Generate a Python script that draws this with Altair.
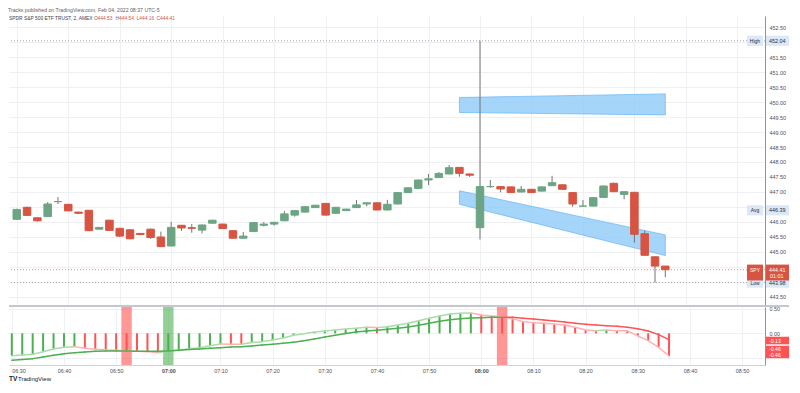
import altair as alt
import pandas as pd

# ---------------- data ----------------
times = ["06:30", "06:32", "06:34", "06:36", "06:38", "06:40", "06:42", "06:44", "06:46", "06:48",
         "06:50", "06:52", "06:54", "06:56", "06:58", "07:00", "07:02", "07:04", "07:06", "07:08",
         "07:10", "07:12", "07:14", "07:16", "07:18", "07:20", "07:22", "07:24", "07:26", "07:28",
         "07:30", "07:32", "07:34", "07:36", "07:38", "07:40", "07:42", "07:44", "07:46", "07:48",
         "07:50", "07:52", "07:54", "07:56", "07:58", "08:00", "08:02", "08:04", "08:06", "08:08",
         "08:10", "08:12", "08:14", "08:16", "08:18", "08:20", "08:22", "08:24", "08:26", "08:28",
         "08:30", "08:32", "08:34", "08:36"]

opens = [446.09, 446.49, 446.14, 446.18, 446.68, 446.59, 446.33, 446.39, 445.76, 446.06,
         445.79, 445.74, 445.62, 445.76, 445.50, 445.20, 445.89, 445.81, 445.73, 445.96,
         445.93, 445.71, 445.46, 445.68, 445.89, 445.93, 446.04, 446.23, 446.33, 446.48,
         446.62, 446.29, 446.38, 446.48, 446.60, 446.64, 446.40, 446.60, 446.98, 447.12,
         447.40, 447.48, 447.60, 447.82, 447.60, 445.81, 447.18, 447.18, 447.17, 447.00,
         447.09, 447.03, 447.21, 447.24, 446.98, 446.53, 446.53, 446.82, 447.29, 446.92,
         446.99, 445.61, 444.84, 444.53]
closes = [446.42, 446.22, 446.04, 446.60, 446.68, 446.37, 446.29, 445.71, 445.82, 445.72,
          445.53, 445.44, 445.58, 445.48, 445.18, 445.82, 445.80, 445.79, 445.90, 446.06,
          445.78, 445.46, 445.53, 445.98, 445.93, 445.99, 446.27, 446.38, 446.51, 446.56,
          446.23, 446.49, 446.43, 446.57, 446.64, 446.40, 446.59, 446.98, 447.14, 447.40,
          447.44, 447.62, 447.81, 447.62, 447.56, 447.18, 447.18, 447.10, 446.98, 447.09,
          446.98, 447.17, 447.31, 447.09, 446.60, 446.53, 446.81, 447.20, 447.01, 447.01,
          445.59, 444.89, 444.53, 444.41]
highs = [446.44, 446.51, 446.15, 446.66, 446.83, 446.60, 446.34, 446.40, 445.83, 446.07,
         445.80, 445.75, 445.63, 445.78, 445.68, 446.01, 445.90, 445.93, 445.92, 446.07,
         445.94, 445.72, 445.67, 445.99, 446.00, 446.00, 446.36, 446.40, 446.53, 446.57,
         446.63, 446.50, 446.44, 446.73, 446.65, 446.65, 446.74, 446.99, 447.15, 447.41,
         447.60, 447.66, 447.90, 447.83, 447.62, 452.04, 447.40, 447.19, 447.18, 447.20,
         447.10, 447.18, 447.54, 447.25, 446.99, 446.73, 446.82, 447.21, 447.31, 447.02,
         447.00, 445.71, 444.85, 444.54]
lows = [446.07, 446.20, 446.02, 446.17, 446.60, 446.36, 446.28, 445.70, 445.75, 445.71,
        445.50, 445.43, 445.57, 445.44, 445.17, 445.19, 445.70, 445.64, 445.62, 445.95,
        445.77, 445.45, 445.45, 445.67, 445.85, 445.88, 446.03, 446.18, 446.32, 446.47,
        446.22, 446.28, 446.37, 446.47, 446.52, 446.39, 446.39, 446.59, 446.97, 447.11,
        447.23, 447.47, 447.59, 447.51, 447.50, 445.42, 447.14, 446.99, 446.97, 446.99,
        446.97, 447.02, 447.20, 447.08, 446.51, 446.51, 446.52, 446.81, 447.00, 446.76,
        445.31, 444.88, 443.98, 444.16]

osc = [-0.46, -0.445, -0.43, -0.375, -0.32, -0.286, -0.272, -0.306, -0.327, -0.340,
       -0.345, -0.354, -0.365, -0.374, -0.395, -0.361, -0.340, -0.313, -0.293, -0.252,
       -0.218, -0.221, -0.225, -0.190, -0.170, -0.136, -0.095, -0.041, -0.007, 0.027,
       0.048, 0.068, 0.088, 0.102, 0.122, 0.116, 0.136, 0.170, 0.204, 0.258,
       0.306, 0.354, 0.395, 0.408, 0.415, 0.374, 0.354, 0.340, 0.300, 0.238,
       0.218, 0.204, 0.190, 0.170, 0.122, 0.068, 0.054, 0.068, 0.054, 0.050,
       -0.054, -0.150, -0.286, -0.463]
osc_dir = ["u", "u", "u", "u", "u", "u", "u", "d", "d", "d",
           "d", "d", "d", "d", "d", "u", "u", "u", "u", "u",
           "u", "d", "d", "u", "u", "u", "u", "u", "u", "u",
           "u", "u", "u", "u", "u", "d", "u", "u", "u", "u",
           "u", "u", "u", "u", "u", "d", "d", "d", "d", "d",
           "d", "d", "d", "d", "d", "d", "d", "u", "d", "d",
           "d", "d", "d", "d"]
signal = [-0.551, -0.537, -0.517, -0.483, -0.449, -0.415, -0.395, -0.381, -0.367, -0.361,
          -0.361, -0.361, -0.365, -0.367, -0.367, -0.361, -0.347, -0.333, -0.320, -0.306,
          -0.293, -0.279, -0.272, -0.259, -0.238, -0.224, -0.204, -0.184, -0.150, -0.116,
          -0.075, -0.041, -0.005, 0.027, 0.048, 0.061, 0.082, 0.102, 0.129, 0.163,
          0.204, 0.245, 0.279, 0.299, 0.313, 0.320, 0.327, 0.327, 0.327, 0.306,
          0.293, 0.272, 0.252, 0.231, 0.204, 0.184, 0.170, 0.156, 0.143, 0.122,
          0.095, 0.048, -0.027, -0.13]
sig_dir = ["u"] * 48 + ["d"] * 16

flag_times = ["06:52", "07:00", "08:04"]
flag_dir = ["d", "u", "d"]

band_times = ["07:56", "08:36"]
upper_top = [450.15, 450.27]
upper_bot = [449.65, 449.57]
lower_top = [447.04, 445.57]
lower_bot = [446.59, 444.88]

tag_names = ["Low", "Avg", "High", "SPY"]
tag_prices = [443.98, 446.39, 452.04, 444.41]
tag_kinds = ["info", "info", "info", "last"]
countdown = "01:01"

time_ticks = ["06:30", "06:40", "06:50", "07:00", "07:10", "07:20", "07:30", "07:40",
              "07:50", "08:00", "08:10", "08:20", "08:30", "08:40", "08:50"]
price_ticks = [443.5, 444.0, 444.5, 445.0, 445.5, 446.0, 446.5, 447.0, 447.5, 448.0,
               448.5, 449.0, 449.5, 450.0, 450.5, 451.0, 451.5, 452.0, 452.5]
osc_ticks = [-0.5, 0.0, 0.5]

title_text = "Tracks published on TradingView.com, Feb 04, 2022 08:37 UTC-5"
header_texts = ["SPDR S&P 500 ETF TRUST, 2, AMEX", "O", "444.53", "H", "444.54",
                "L", "444.16", "C", "444.41"]
header_kind = ["name", "k", "v", "k", "v", "k", "v", "k", "v"]
header_x = [0, 85, 88.5, 106.5, 110, 127.5, 130.2, 147.5, 151]   # layout positions (px)

# ---------------- layout / style ----------------
FONT = "Liberation Sans"
W = 756
H_MAIN = 289
H_IND = 58
PX_PER_MIN = 5.216
X_START = 29.46
UP, DOWN = "#6ba583", "#d75442"
OSC_UP, OSC_DN = "#4caf50", "#ff5252"
LIGHT_UP, LIGHT_DN = "#a8dcaa", "#ffb0b0"
GRID = "#eef0f4"
AXIS_LINE = "#8f929b"
LABEL = "#4b4f5a"
AX_FS = 5.4


def minutes(s):
    h, m = s.split(":")
    return (int(h) - 6) * 60 + int(m)


tm = [minutes(s) for s in times]
cdir = ["u" if c >= o else "d" for o, c in zip(opens, closes)]
candles = pd.DataFrame(dict(t=tm, open=opens, high=highs, low=lows, close=closes,
                            col=[UP if d == "u" else DOWN for d in cdir]))
ind = pd.DataFrame(dict(t=tm, v=osc, col=[OSC_UP if d == "u" else OSC_DN for d in osc_dir]))
seg_light = pd.DataFrame(dict(t0=tm[:-1], t1=tm[1:], v0=osc[:-1], v1=osc[1:],
                              col=[LIGHT_UP if d == "u" else LIGHT_DN for d in osc_dir[1:]]))
seg_sig = pd.DataFrame(dict(t0=tm[:-1], t1=tm[1:], v0=signal[:-1], v1=signal[1:],
                            col=[OSC_UP if d == "u" else OSC_DN for d in sig_dir[1:]]))
flags = pd.DataFrame(dict(t=[minutes(s) for s in flag_times],
                          col=[OSC_UP if d == "u" else OSC_DN for d in flag_dir]))
bands = pd.DataFrame(dict(
    band=["upper", "upper", "lower", "lower"],
    t=[minutes(s) for s in band_times] * 2,
    top=upper_top + lower_top,
    bot=upper_bot + lower_bot))
tags = pd.DataFrame(dict(name=tag_names, price=tag_prices, kind=tag_kinds,
                         label=[f"{p:.2f}" for p in tag_prices],
                         box=["#dce8f8" if k == "info" else DOWN for k in tag_kinds],
                         ink=["#2a2e39" if k == "info" else "#ffffff" for k in tag_kinds]))
levels = pd.DataFrame(dict(price=[tag_prices[2], tag_prices[0], tag_prices[3]],
                           col=["#a3a6af", "#a3a6af", "#f08b80"]))
header = pd.DataFrame(dict(text=header_texts, x=header_x,
                           col=[{"name": "#3d4150", "k": "#6a6d78", "v": DOWN}[k] for k in header_kind]))
ind_tags = pd.DataFrame(dict(
    text=[f"{signal[-1]:.2f}", f"{osc[-1]:.2f}", f"{osc[-1]:.2f}"],
    ty=[-0.15, -0.325, -0.44]))
ind_boxes = pd.DataFrame(dict(top=[-0.07, -0.255], bot=[-0.225, -0.51]))
logo_icon = pd.DataFrame(dict(text=["TV"], x=[0]))
logo_word = pd.DataFrame(dict(text=["TradingView"], x=[9]))

# hide axis labels that sit under a price tag (as the tags cover them)
hide_test = " || ".join(f"abs(datum.value - {p}) < 0.15" for p in tag_prices)
price_label_expr = f"({hide_test}) ? '' : format(datum.value, '.2f')"
osc_label_expr = "datum.value < -0.25 ? '' : format(datum.value, '.2f')"

xscale = alt.Scale(domain=[X_START, X_START + W / PX_PER_MIN], nice=False, zero=False)
yscale = alt.Scale(domain=[443.233, 452.867], nice=False, zero=False)
vscale = alt.Scale(domain=[-0.647, 0.537], nice=False, zero=False)

grid_min = [minutes(s) for s in time_ticks]

AX_MX = alt.Axis(values=grid_min, labels=False, ticks=False, domain=False, grid=True,
                 gridColor=GRID, title=None)
AX_MY = alt.Axis(orient="right", values=price_ticks, labelExpr=price_label_expr, grid=True,
                 gridColor=GRID, ticks=False, domain=True, domainColor=AXIS_LINE,
                 labelFontSize=AX_FS, labelColor=LABEL, labelPadding=4, title=None)
AX_IX = alt.Axis(values=grid_min, labelExpr="timeFormat(datetime(2022, 1, 4, 6, datum.value), '%H:%M')",
                 labelFontWeight={"condition": {"test": "datum.value % 60 == 0", "value": "bold"},
                                  "value": "normal"},
                 ticks=False, domain=True, domainColor="#d1d4dc", grid=True, gridColor=GRID,
                 labelFontSize=AX_FS, labelColor=LABEL, labelPadding=3.3, labelFlush=8, title=None)
AX_IY = alt.Axis(orient="right", values=osc_ticks, labelExpr=osc_label_expr, grid=True,
                 gridColor=GRID, ticks=False, domain=True, domainColor=AXIS_LINE,
                 labelFontSize=AX_FS, labelColor=LABEL, labelPadding=4, title=None)

MX = alt.X("t:Q", scale=xscale, axis=AX_MX)


def MY(field):
    return alt.Y(field, scale=yscale, axis=AX_MY)


# ---------------- main pane ----------------
band_layer = alt.Chart(bands).mark_area(
    fill="#90caf9", fillOpacity=0.8, stroke="#64b5f6", strokeWidth=1, strokeOpacity=0.7
).encode(x=MX, y=MY("top:Q"), y2="bot:Q", detail="band:N")

level_layer = alt.Chart(levels).mark_rule(strokeDash=[1, 2], strokeWidth=1).encode(
    y=MY("price:Q"), color=alt.Color("col:N", scale=None))

wick_layer = alt.Chart(candles).mark_rule(color="#737375", strokeWidth=1).encode(
    x=MX, y=MY("low:Q"), y2="high:Q")

body_layer = alt.Chart(candles).mark_bar(size=7.5, strokeWidth=1).encode(
    x=MX, y=MY("open:Q"), y2="close:Q",
    color=alt.Color("col:N", scale=None),
    stroke=alt.Stroke("col:N", scale=None))

header_layer = alt.Chart(header).mark_text(
    align="left", baseline="middle", fontSize=4.9, font=FONT
).encode(x=alt.X("x:Q", scale=None), y=alt.value(3), text="text:N",
         color=alt.Color("col:N", scale=None))

tag_base = alt.Chart(tags).transform_calculate(
    ytop="datum.price + 0.17",
    ybot="datum.kind == 'last' ? datum.price - 0.36 : datum.price - 0.17")
tag_left_box = tag_base.mark_rect().encode(
    x=alt.value(W - 18), x2=alt.value(W - 2), y=MY("ytop:Q"), y2="ybot:Q",
    color=alt.Color("box:N", scale=None))
tag_right_box = tag_base.mark_rect().encode(
    x=alt.value(W + 1), x2=alt.value(W + 24), y=MY("ytop:Q"), y2="ybot:Q",
    color=alt.Color("box:N", scale=None))
tag_left_txt = tag_base.mark_text(fontSize=5, font=FONT, baseline="middle", align="center").encode(
    x=alt.value(W - 10), y=MY("price:Q"), text="name:N", color=alt.Color("ink:N", scale=None))
tag_right_txt = tag_base.mark_text(fontSize=AX_FS, font=FONT, baseline="middle", align="left").encode(
    x=alt.value(W + 4), y=MY("price:Q"), text="label:N", color=alt.Color("ink:N", scale=None))
tag_count_txt = tag_base.transform_filter("datum.kind == 'last'").mark_text(
    fontSize=AX_FS, font=FONT, baseline="middle", align="left", dy=6, color="#ffffff"
).encode(x=alt.value(W + 5), y=MY("price:Q"), text=alt.value(countdown))

main = alt.layer(
    band_layer, level_layer, wick_layer, body_layer, header_layer,
    tag_left_box, tag_right_box, tag_left_txt, tag_right_txt, tag_count_txt
).properties(width=W, height=H_MAIN)

# ---------------- indicator pane ----------------
IX = alt.X("t:Q", scale=xscale, axis=AX_IX)


def IY(field):
    return alt.Y(field, scale=vscale, axis=AX_IY)


flag_layer = alt.Chart(flags).transform_calculate(
    ta="datum.t - 1", tb="datum.t + 1"
).mark_rect(opacity=0.6).encode(
    x=alt.X("ta:Q", scale=xscale, axis=AX_IX), x2="tb:Q",
    y=alt.value(0), y2=alt.value(H_IND),
    color=alt.Color("col:N", scale=None))

bar_layer = alt.Chart(ind).transform_calculate(zero="0").mark_rule(strokeWidth=2).encode(
    x=IX, y=IY("v:Q"), y2="zero:Q", color=alt.Color("col:N", scale=None))

light_layer = alt.Chart(seg_light).mark_rule(strokeWidth=1.5, strokeCap="round").encode(
    x=alt.X("t0:Q", scale=xscale, axis=AX_IX), x2="t1:Q", y=IY("v0:Q"), y2="v1:Q",
    color=alt.Color("col:N", scale=None))

sig_layer = alt.Chart(seg_sig).mark_rule(strokeWidth=1.5, strokeCap="round").encode(
    x=alt.X("t0:Q", scale=xscale, axis=AX_IX), x2="t1:Q", y=IY("v0:Q"), y2="v1:Q",
    color=alt.Color("col:N", scale=None))

ibox_layer = alt.Chart(ind_boxes).mark_rect(color="#ff5252").encode(
    x=alt.value(W + 1), x2=alt.value(W + 24), y=IY("top:Q"), y2="bot:Q")
itxt_layer = alt.Chart(ind_tags).mark_text(
    fontSize=5.2, font=FONT, baseline="middle", align="left", color="#ffffff"
).encode(x=alt.value(W + 4), y=IY("ty:Q"), text="text:N")

sep_layer = alt.Chart(ind_boxes).mark_rule(color="#c4c7ce", strokeWidth=2).encode(
    x=alt.value(0), x2=alt.value(W + 24), y=alt.value(-1))

logo_icon_layer = alt.Chart(logo_icon).mark_text(
    align="left", baseline="middle", fontSize=6.5, font=FONT, color="#131722", fontWeight=900
).encode(x=alt.X("x:Q", scale=None), y=alt.value(H_IND + 14), text="text:N")
logo_word_layer = alt.Chart(logo_word).mark_text(
    align="left", baseline="middle", fontSize=6, font=FONT, color="#131722"
).encode(x=alt.X("x:Q", scale=None), y=alt.value(H_IND + 14), text="text:N")

indicator = alt.layer(
    flag_layer, bar_layer, light_layer, sig_layer, ibox_layer, itxt_layer, sep_layer,
    logo_icon_layer, logo_word_layer
).properties(width=W, height=H_IND)

chart = alt.vconcat(main, indicator, spacing=2, bounds="flush").properties(
    title=alt.TitleParams(title_text, anchor="start", fontSize=5.2, fontWeight="normal",
                          color="#5d606b", font=FONT, offset=2.7),
    padding=0, background="white"
).configure_view(stroke=None).configure_axis(labelFont=FONT)

chart.save("out.html", embed_options={"renderer": "svg", "actions": False})
